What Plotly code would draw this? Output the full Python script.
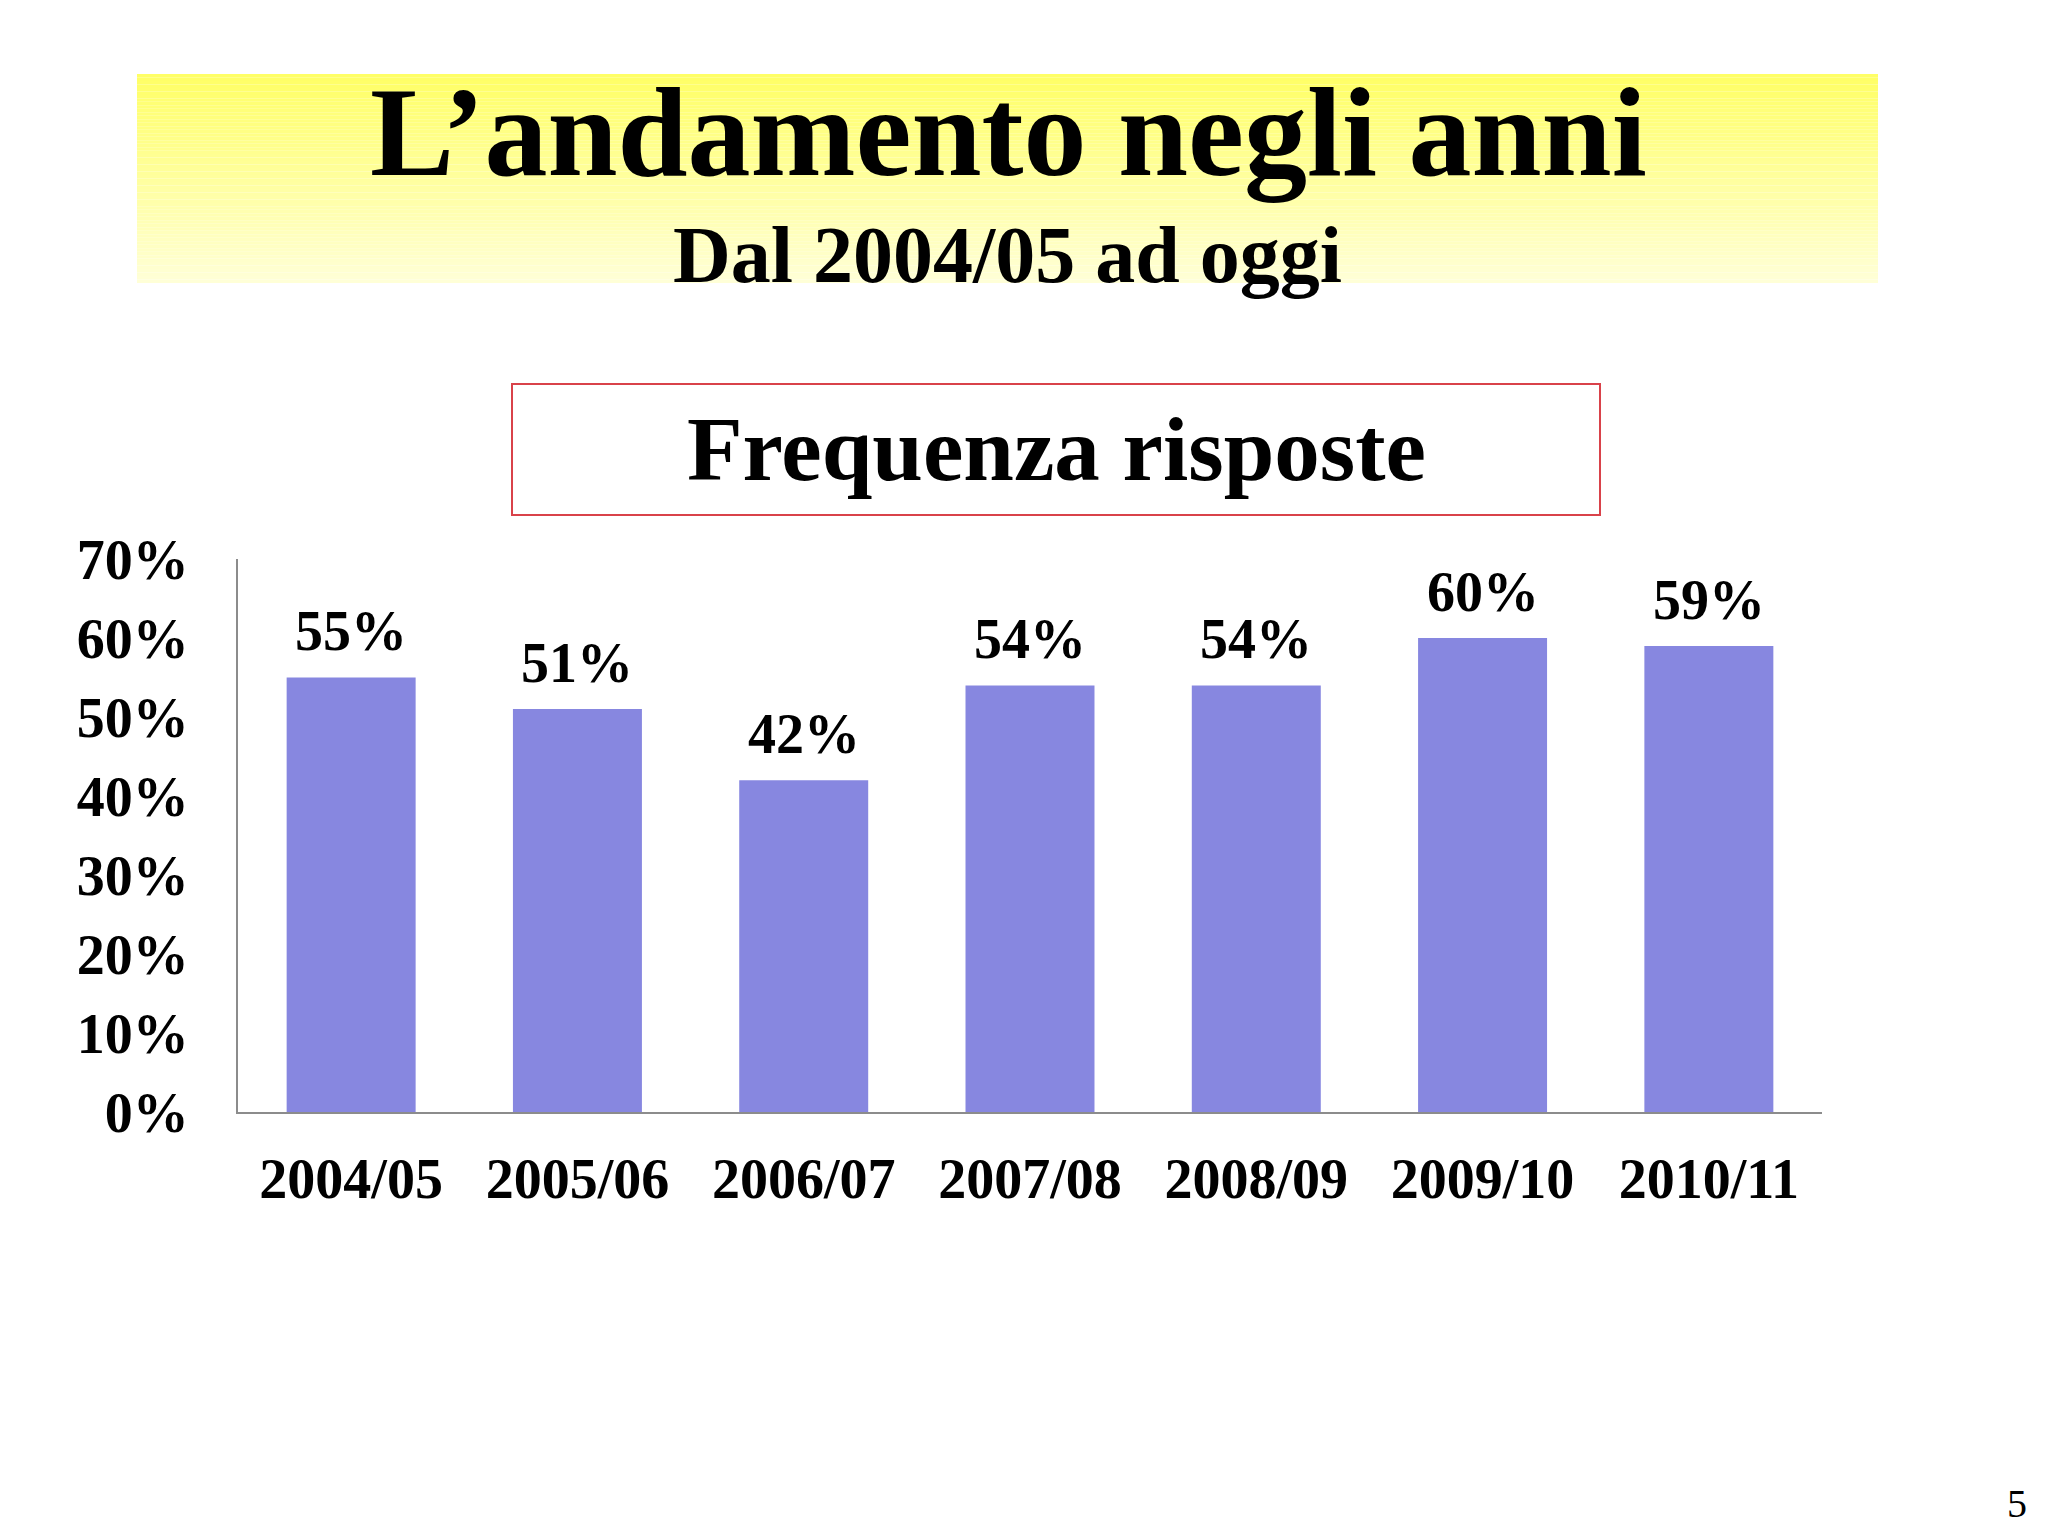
import plotly.graph_objects as go

# data
anni = ["2004/05", "2005/06", "2006/07", "2007/08", "2008/09", "2009/10", "2010/11"]
frequenza = [0.55, 0.51, 0.42, 0.54, 0.54, 0.60, 0.59]
etichette = ["55%", "51%", "42%", "54%", "54%", "60%", "59%"]

W, H = 2048, 1536
OFF = 8  # page body margin
SERIF = "Liberation Serif, Times New Roman, serif"


def py(pix):
    # pixel row from top of the page -> paper fraction
    return 1 - (pix - OFF) / H


def px(pix):
    return (pix - OFF) / W


fig = go.Figure(go.Bar(
    x=anni, y=frequenza,
    marker=dict(color="#8787E0", line=dict(width=0)),
    hoverinfo="skip",
))

# yellow banner with a vertical gradient, built from thin strips
shapes = []
top, bot = 74, 283
n = 60
for i in range(n):
    t = i / (n - 1)
    b = int(102 + (215 - 102) * t)
    shapes.append(dict(
        type="rect", xref="paper", yref="paper", layer="below",
        x0=px(137), x1=px(1878),
        y0=py(top + (bot - top) * (i + 1) / n), y1=py(top + (bot - top) * i / n),
        fillcolor=f"rgb(255,255,{b})", line=dict(width=0),
    ))

# red frame around the chart title
shapes.append(dict(
    type="rect", xref="paper", yref="paper",
    x0=px(512), x1=px(1600), y0=py(515), y1=py(384),
    line=dict(color="#D9424A", width=2), fillcolor="rgba(0,0,0,0)",
))

annotations = [
    dict(text="L’andamento negli anni", xref="paper", yref="paper",
         x=px(1008), y=py(133), xanchor="center", yanchor="middle", showarrow=False,
         font=dict(family=SERIF, size=126, color="black", weight="bold")),
    dict(text="Dal 2004/05 ad oggi", xref="paper", yref="paper",
         x=px(1007), y=py(255), xanchor="center", yanchor="middle", showarrow=False,
         font=dict(family=SERIF, size=80, color="black", weight="bold")),
    dict(text="Frequenza risposte", xref="paper", yref="paper",
         x=px(1056), y=py(449), xanchor="center", yanchor="middle", showarrow=False,
         font=dict(family=SERIF, size=91, color="black", weight="bold")),
    dict(text="5", xref="paper", yref="paper",
         x=px(2017), y=py(1503), xanchor="center", yanchor="middle", showarrow=False,
         font=dict(family=SERIF, size=40, color="black")),
]
# value labels above each bar
for a, v, lab in zip(anni, frequenza, etichette):
    annotations.append(dict(
        x=a, y=v, xref="x", yref="y", text=lab, showarrow=False,
        xanchor="center", yanchor="bottom", yshift=13,
        font=dict(family=SERIF, size=56, color="black", weight="bold"),
    ))

fig.update_layout(
    width=W, height=H,
    margin=dict(l=0, r=0, t=0, b=0, autoexpand=False),
    paper_bgcolor="white", plot_bgcolor="white",
    showlegend=False,
    bargap=0.43,
    shapes=shapes,
    annotations=annotations,
    xaxis=dict(
        domain=[px(238), px(1822)], automargin=False,
        showline=True, linecolor="#8C8C8C", linewidth=2,
        showgrid=False, ticks="", ticklabelstandoff=17,
        tickfont=dict(family=SERIF, size=56, color="black", weight="bold"),
    ),
    yaxis=dict(
        domain=[py(1112), py(559)], automargin=False,
        range=[0, 0.7], dtick=0.1, tickformat=".0%",
        showline=True, linecolor="#8C8C8C", linewidth=2,
        showgrid=False, zeroline=False, ticks="", ticklabelstandoff=36,
        tickfont=dict(family=SERIF, size=56, color="black", weight="bold"),
    ),
)

fig.write_html("out.html")
